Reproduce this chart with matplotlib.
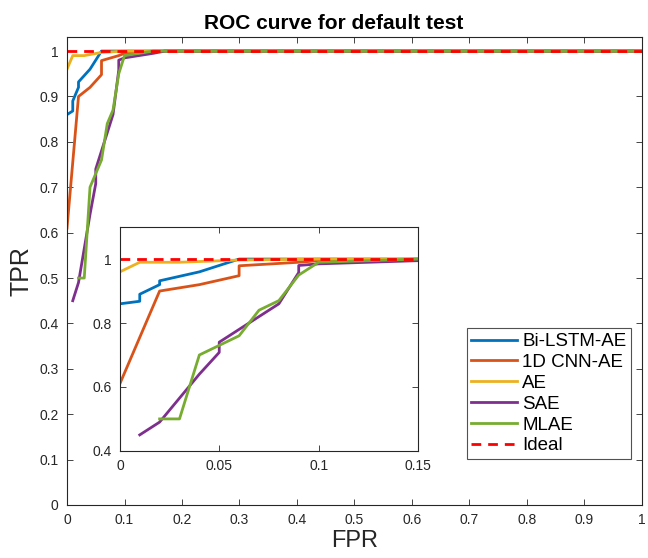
import matplotlib
matplotlib.use("Agg")
import matplotlib.pyplot as plt

plt.rcParams['font.family'] = ['Liberation Sans', 'DejaVu Sans']

# Data
bilstm_fpr = [0, 0.01, 0.01, 0.02, 0.02, 0.04, 0.05, 0.06, 1.0]
bilstm_tpr = [0.86, 0.868, 0.89, 0.92, 0.932, 0.96, 0.98, 1.0, 1.0]

cnn_fpr = [0, 0.02, 0.04, 0.06, 0.06, 0.09, 0.10, 0.15, 1.0]
cnn_tpr = [0.61, 0.90, 0.92, 0.948, 0.979, 0.99, 0.995, 1.0, 1.0]

ae_fpr = [0, 0.01, 0.03, 0.06, 0.10, 1.0]
ae_tpr = [0.96, 0.99, 0.99, 0.997, 1.0, 1.0]

sae_fpr = [0.01, 0.02, 0.04, 0.05, 0.05, 0.06, 0.08, 0.09, 0.09, 0.10, 0.15, 0.17, 1.0]
sae_tpr = [0.45, 0.49, 0.64, 0.708, 0.74, 0.78, 0.86, 0.958, 0.98, 0.985, 0.995, 1.0, 1.0]

mlae_fpr = [0.02, 0.03, 0.04, 0.06, 0.07, 0.08, 0.09, 0.10, 0.15, 0.17, 1.0]
mlae_tpr = [0.50, 0.50, 0.70, 0.76, 0.84, 0.87, 0.95, 0.99, 1.0, 1.0, 1.0]

ideal_fpr = [0, 1]
ideal_tpr = [1, 1]

series = [
    ("Bi-LSTM-AE", bilstm_fpr, bilstm_tpr, "#0072BD"),
    ("1D CNN-AE", cnn_fpr, cnn_tpr, "#D95319"),
    ("AE", ae_fpr, ae_tpr, "#EDB120"),
    ("SAE", sae_fpr, sae_tpr, "#7E2F8E"),
    ("MLAE", mlae_fpr, mlae_tpr, "#77AC30"),
]

main_ticks = [0, 0.1, 0.2, 0.3, 0.4, 0.5, 0.6, 0.7, 0.8, 0.9, 1]
main_labels = ["0", "0.1", "0.2", "0.3", "0.4", "0.5", "0.6", "0.7", "0.8", "0.9", "1"]
inset_xticks = [0, 0.05, 0.1, 0.15]
inset_xlabels = ["0", "0.05", "0.1", "0.15"]
inset_yticks = [0.4, 0.6, 0.8, 1.0]
inset_ylabels = ["0.4", "0.6", "0.8", "1"]

axcol = "#262626"
fig = plt.figure(figsize=(6.48, 5.58), dpi=100)
ax = fig.add_axes([0.1034, 0.095, 0.8873, 0.8387])

def style(a):
    for s in a.spines.values():
        s.set_color("#262626")
        s.set_linewidth(0.8)
    a.tick_params(direction="in", top=True, right=True, colors=axcol,
                  labelsize=10, length=4, width=0.6, pad=6)

for name, x, y, c in series:
    ax.plot(x, y, color=c, lw=2, label=name)
ax.plot(ideal_fpr, ideal_tpr, "--", color="red", lw=2, label="Ideal", dashes=(3.5, 2.5))
ax.set_xlim(0, 1)
ax.set_ylim(0, 1.031)
ax.set_xticks(main_ticks)
ax.set_xticklabels(main_labels)
ax.set_yticks(main_ticks)
ax.set_yticklabels(main_labels)
style(ax)
ax.set_xlabel("FPR", fontsize=17, color=axcol, labelpad=2)
ax.set_ylabel("TPR", fontsize=18, color=axcol, labelpad=4)
ax.set_title("ROC curve for default test", fontsize=15, fontweight="bold", pad=6,
             x=0.464)
leg = ax.legend(loc="lower right", bbox_to_anchor=(0.981, 0.098), fontsize=13.5,
                frameon=True, fancybox=False, edgecolor="#262626",
                handlelength=2.45, handletextpad=0.25, labelspacing=0.2,
                borderpad=0.25, borderaxespad=0)
leg.get_frame().set_linewidth(0.8)

ins = fig.add_axes([0.185, 0.192, 0.46, 0.401])
for name, x, y, c in series:
    ins.plot(x, y, color=c, lw=2)
ins.plot(ideal_fpr, ideal_tpr, "--", color="red", lw=2, dashes=(3.5, 2.5))
ins.set_xlim(0, 0.15)
ins.set_ylim(0.4, 1.1)
ins.set_xticks(inset_xticks)
ins.set_xticklabels(inset_xlabels)
ins.set_yticks(inset_yticks)
ins.set_yticklabels(inset_ylabels)
style(ins)

fig.savefig("out.png", dpi=100)
